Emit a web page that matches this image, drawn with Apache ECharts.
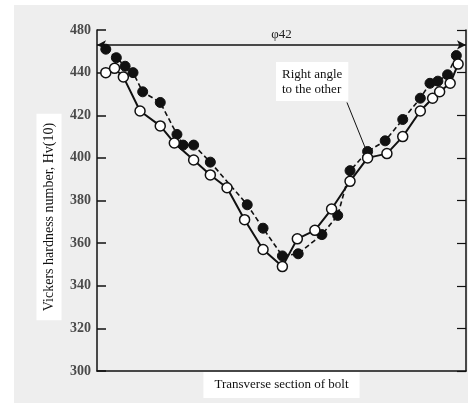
<!DOCTYPE html>
<html>
<head>
<meta charset="utf-8">
<script src="https://cdn.jsdelivr.net/npm/echarts@6/dist/echarts.min.js"></script>
<style>html,body{margin:0;padding:0;background:#fff;}#c{width:473px;height:403px;}</style>
</head>
<body>
<div id="c"></div>
<script>
// Position across the bolt section (mm, centre = 0) and Vickers hardness Hv(10)
const filledX = [-20.0, -18.8, -17.8, -16.9, -15.8, -13.8, -11.9, -11.2, -10.0, -8.1, -3.9, -2.1, 0.1, 1.9, 4.6, 6.4, 7.8, 9.8, 11.8, 13.8, 15.8, 16.9, 17.8, 18.9, 19.9];
const filledY = [451, 447, 443, 440, 431, 426, 411, 406, 406, 398, 378, 367, 354, 355, 364, 373, 394, 403, 408, 418, 428, 435, 436, 439, 448];
const openX = [-20.0, -19.0, -18.0, -16.1, -13.8, -12.2, -10.0, -8.1, -6.2, -4.2, -2.1, 0.1, 1.8, 3.8, 5.7, 7.8, 9.8, 12.0, 13.8, 15.8, 17.2, 18.0, 19.2, 20.1];
const openY = [440, 442, 438, 422, 415, 407, 399, 392, 386, 371, 357, 349, 362, 366, 376, 389, 400, 402, 410, 422, 428, 431, 435, 444];
const yTickValues = [300, 320, 340, 360, 380, 400, 420, 440, 460];
const yTickLabels = ['300', '320', '340', '360', '380', '400', '420', '440', '480'];
const diameterLabel = 'φ42';
const diameterLevel = 453;
const xTitle = 'Transverse section of bolt';
const yTitle = 'Vickers hardness number, Hv(10)';
const noteText = 'Right angle\nto the other';
const noteFrom = [7.45, 426];
const noteTo = [9.5, 405];

const filledData = filledX.map((x, i) => [x, filledY[i]]);
const openData = openX.map((x, i) => [x, openY[i]]);
const serif = '"Liberation Serif", "DejaVu Serif", serif';

const chart = echarts.init(document.getElementById('c'), null, {renderer: 'canvas'});
chart.setOption({
  backgroundColor: '#eeeeee',
  animation: false,
  grid: {left: 97, right: 7, top: 30, bottom: 27, containLabel: false},
  xAxis: {
    type: 'value', min: -21, max: 21,
    axisLine: {onZero: false, lineStyle: {color: '#111', width: 1.5}},
    axisTick: {show: false}, axisLabel: {show: false}, splitLine: {show: false},
    name: xTitle, nameLocation: 'middle', nameGap: 1,
    nameTextStyle: {fontFamily: serif, fontSize: 13, color: '#111', backgroundColor: '#fff', padding: [6, 11, 7, 11]}
  },
  yAxis: [{
    type: 'value', min: 300, max: 460, interval: 20, position: 'left',
    axisLine: {show: true, onZero: false, lineStyle: {color: '#111', width: 1.5}},
    axisTick: {show: true, inside: true, length: 9, lineStyle: {color: '#111', width: 1.5}},
    axisLabel: {fontFamily: serif, fontSize: 14, fontWeight: 'bold', color: '#4a4a4a', margin: 6,
      formatter: v => { const i = yTickValues.indexOf(v); return i >= 0 ? yTickLabels[i] : ''; }},
    splitLine: {show: false}
  }, {
    type: 'value', min: 300, max: 460, interval: 20, position: 'right',
    axisLine: {show: true, onZero: false, lineStyle: {color: '#111', width: 1.5}},
    axisTick: {show: true, inside: true, length: 9, lineStyle: {color: '#111', width: 1.2}},
    axisLabel: {show: false}, splitLine: {show: false}
  }],
  graphic: [
    {type: 'rect', shape: {x: 0, y: 0, width: 14, height: 403}, style: {fill: '#fff'}, silent: true},
    {type: 'rect', shape: {x: 0, y: 0, width: 473, height: 5}, style: {fill: '#fff'}, silent: true},
    {type: 'rect', shape: {x: 468, y: 0, width: 5, height: 403}, style: {fill: '#fff'}, silent: true},
    {type: 'text', x: 49, y: 217, rotation: Math.PI / 2, z: 10,
      style: {text: yTitle, font: '14px ' + serif, fill: '#111', textAlign: 'center', textVerticalAlign: 'middle',
        backgroundColor: '#fff', padding: [6, 9, 5, 9]}},
    {type: 'text', x: 276, y: 62, z: 10,
      style: {text: noteText, font: '13px ' + serif, fill: '#111', lineHeight: 15,
        backgroundColor: '#fff', padding: [5, 6, 4, 6]}}
  ],
  series: [{
    type: 'line', name: 'filled', data: filledData,
    symbol: 'circle', symbolSize: 10,
    itemStyle: {color: '#111', borderColor: '#111'},
    lineStyle: {color: '#111', width: 1.6, type: [5, 3]},
    z: 3,
    markLine: {
      silent: true, symbol: ['arrow', 'arrow'], symbolSize: [7, 9],
      lineStyle: {color: '#111', width: 1.5, type: 'solid'},
      label: {show: true, position: 'middle', formatter: diameterLabel, fontFamily: serif, fontSize: 13, color: '#222', distance: 4},
      data: [{yAxis: diameterLevel}]
    }
  }, {
    type: 'line', name: 'open', data: openData,
    symbol: 'circle', symbolSize: 10,
    itemStyle: {color: '#fff', borderColor: '#111', borderWidth: 1.5},
    lineStyle: {color: '#111', width: 2},
    z: 4,
    markLine: {
      silent: true, symbol: ['none', 'none'],
      lineStyle: {color: '#111', width: 1, type: 'solid'},
      label: {show: false},
      data: [[{coord: noteFrom}, {coord: noteTo}]]
    }
  }]
});
</script>
</body>
</html>
